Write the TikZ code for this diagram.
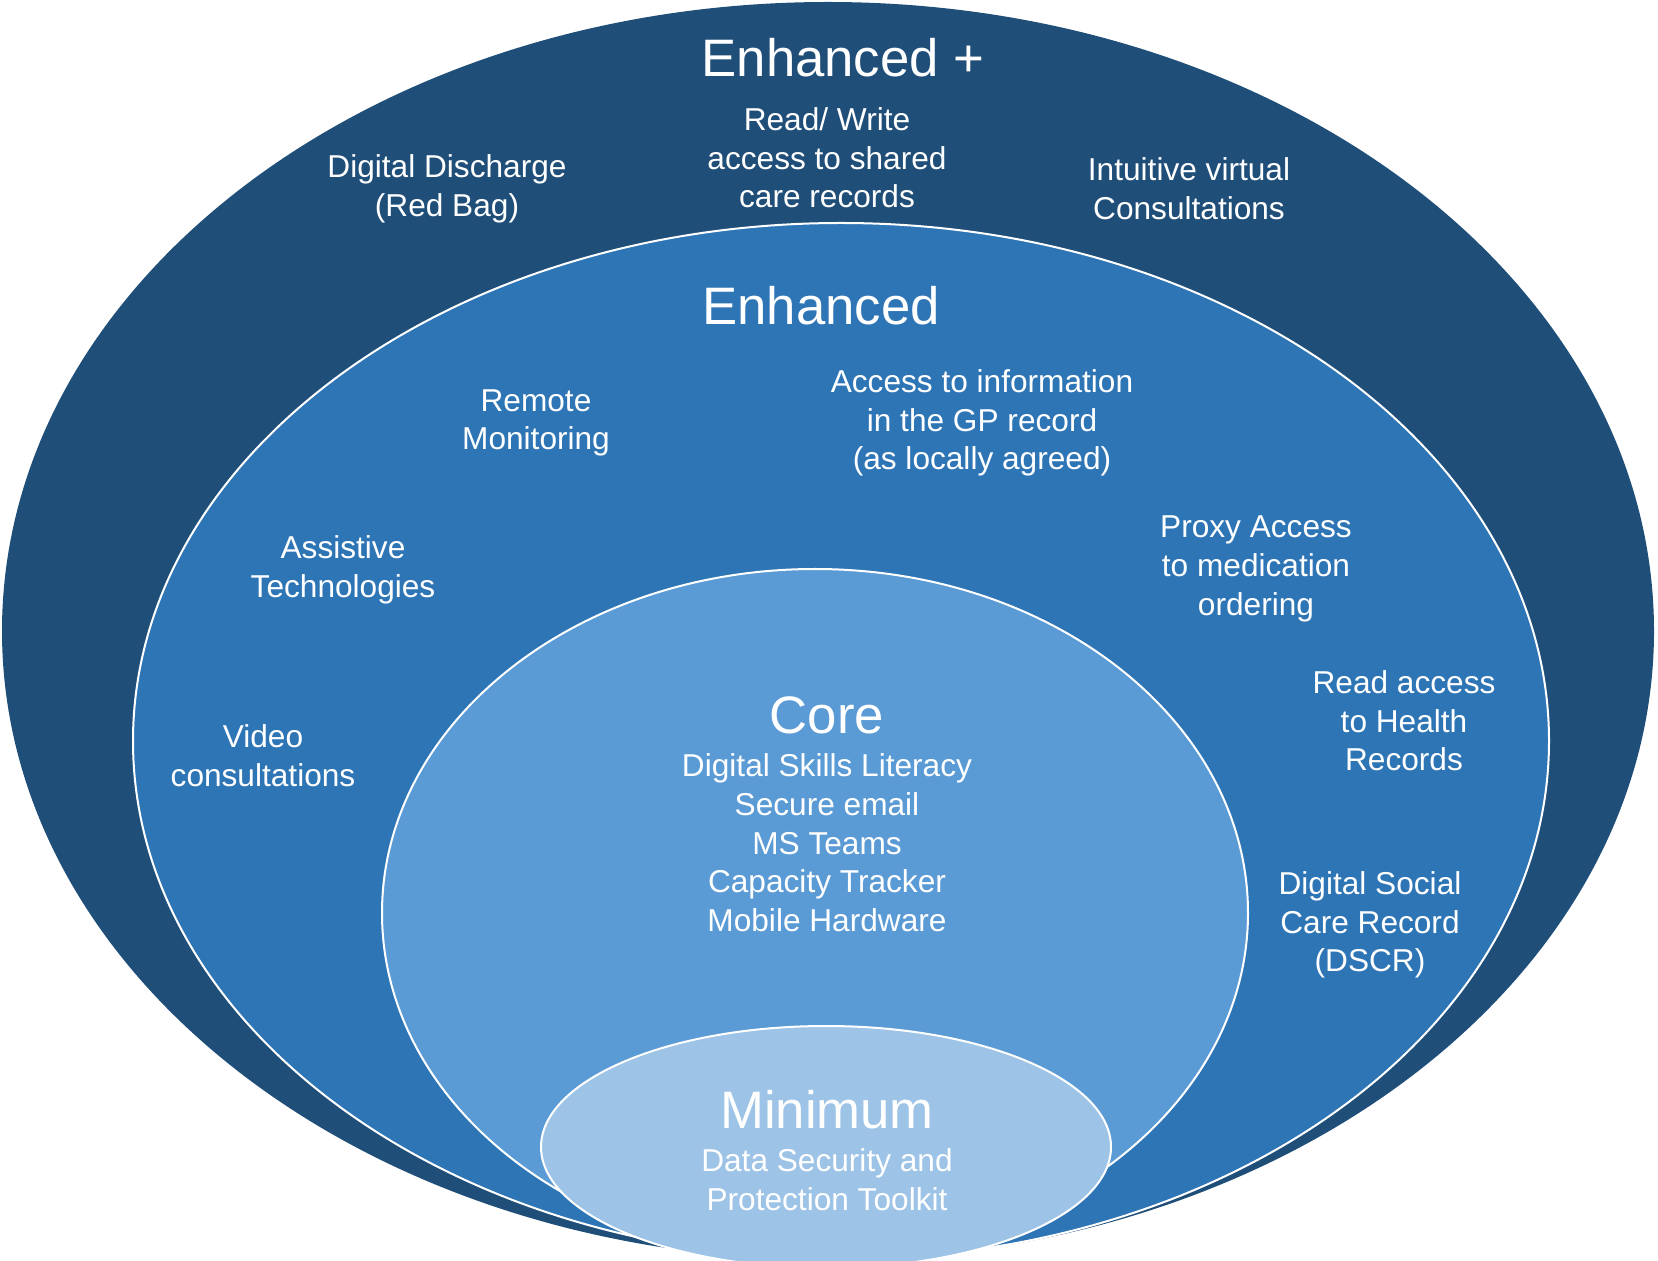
\documentclass[tikz,border=0pt]{standalone}
\usepackage{fontspec}
\setmainfont{Liberation Sans}
\usepackage{tikz}
\definecolor{plusblue}{HTML}{1F4E79}
\definecolor{enhblue}{HTML}{2E75B6}
\definecolor{coreblue}{HTML}{5B9BD5}
\definecolor{minblue}{HTML}{9DC3E6}
\tikzset{
	ring/.style={draw=white, line width=0.57pt},
	lbl/.style={text=white, align=center, inner sep=0pt, font=\fontsize{9}{11}\selectfont},
	ttl/.style={text=white, inner sep=0pt, font=\fontsize{15}{18}\selectfont}
}

\begin{document}
\begin{tikzpicture}[x=0.1mm, y=0.1mm]
			%%%%% START %%%%%
			
			\useasboundingbox (0, 0) rectangle (1658, -1261);
			
			\fill[plusblue] (828, -631) ellipse (826 and 629);
			\draw[ring, fill=enhblue] (841, -741) ellipse (708 and 518);
			\draw[ring, fill=coreblue] (815, -913) ellipse (433 and 344);
			\draw[ring, fill=minblue] (826, -1147) ellipse (285 and 121);
			
			\node[ttl] (plus) at (843, -58) {Enhanced +};
			\node[lbl] (readwrite) at (827, -158) {Read/ Write\\access to shared\\care records};
			\node[lbl] (discharge) at (447, -189) {Digital Discharge\\(Red Bag)};
			\node[lbl] (virtual) at (1189, -189) {Intuitive virtual\\Consultations};
			
			\node[ttl] (enh) at (821, -306) {Enhanced};
			\node[lbl] (remote) at (536, -423) {Remote\\Monitoring};
			\node[lbl] (gprecord) at (982, -423) {Access to information\\in the GP record\\(as locally agreed)};
			\node[lbl] (assist) at (343, -570) {Assistive\\Technologies};
			\node[lbl] (proxy) at (1256, -569) {Proxy Access\\to medication\\ordering};
			\node[lbl] (video) at (263, -756) {Video\\consultations};
			\node[lbl] (health) at (1404, -721) {Read access\\to Health\\Records};
			\node[lbl] (dscr) at (1370, -925) {Digital Social\\Care Record\\(DSCR)};
			
			\node[ttl] (core) at (827, -715) {Core};
			\node[lbl] (corelist) at (827, -843) {Digital Skills Literacy\\Secure email\\MS Teams\\Capacity Tracker\\Mobile Hardware};
			
			\node[ttl] (min) at (827, -1110) {Minimum};
			\node[lbl] (dspt) at (827, -1180) {Data Security and\\Protection Toolkit};
			
			%%%%% END %%%%%
		\end{tikzpicture}
\end{document}
